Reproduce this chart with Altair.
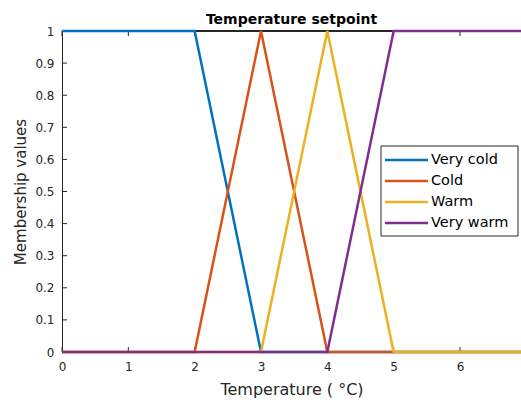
import altair as alt
import pandas as pd

series = ["Very cold", "Cold", "Warm", "Very warm"]
colors = ["#0072BD", "#D95319", "#EDB120", "#7E2F8E"]
xs = {
    "Very cold": [0, 2, 3, 7],
    "Cold": [0, 2, 3, 4, 7],
    "Warm": [0, 3, 4, 5, 7],
    "Very warm": [0, 4, 5, 7],
}
ys = {
    "Very cold": [1, 1, 0, 0],
    "Cold": [0, 0, 1, 0, 0],
    "Warm": [0, 0, 1, 0, 0],
    "Very warm": [0, 0, 1, 1],
}
x_ticks = [0, 1, 2, 3, 4, 5, 6]
y_ticks = [0, 0.1, 0.2, 0.3, 0.4, 0.5, 0.6, 0.7, 0.8, 0.9, 1]

W, H = 459, 321
FONT = "DejaVu Sans"

xscale = alt.Scale(domain=[0, 6.92], nice=False, zero=False)
yscale = alt.Scale(domain=[0, 1], nice=False)

xaxis = alt.Axis(values=x_ticks, ticks=False, grid=False, labelFontSize=12,
                 labelColor="#262626", labelPadding=9, domainColor="#262626",
                 labelFlush=False, labelOverlap=False,
                 title="Temperature ( °C)", titleFontSize=16, titleFontWeight="normal",
                 titleColor="#262626", titlePadding=9, labelFont=FONT, titleFont=FONT)
yaxis = alt.Axis(values=y_ticks, ticks=False, grid=False, labelFontSize=12,
                 labelColor="#262626", labelPadding=8, domainColor="#262626",
                 labelFlush=False, labelOverlap=False,
                 title="Membership values", titleFontSize=15, titleFontWeight="normal",
                 titleColor="#262626", titlePadding=6, labelFont=FONT, titleFont=FONT,
                 format="~g")

X = lambda f: alt.X(f, scale=xscale, axis=xaxis)
Y = lambda f: alt.Y(f, scale=yscale, axis=yaxis)

xt = pd.DataFrame({"x": x_ticks, "y": [0] * len(x_ticks)})
yt = pd.DataFrame({"y": y_ticks, "x": [0] * len(y_ticks)})
base_axes = alt.Chart(xt).mark_point(opacity=0).encode(x=X("x:Q"), y=Y("y:Q"))
tick_bottom = alt.Chart(xt).mark_rule(color="#262626", strokeWidth=1).encode(
    x=X("x:Q"), y=alt.value(H), y2=alt.value(H - 5))
tick_top = alt.Chart(xt).mark_rule(color="#262626", strokeWidth=1).encode(
    x=X("x:Q"), y=alt.value(0), y2=alt.value(5))
tick_left = alt.Chart(yt).mark_rule(color="#262626", strokeWidth=1).encode(
    y=Y("y:Q"), x=alt.value(0), x2=alt.value(5))
top_line = alt.Chart(xt).mark_rule(color="#262626", strokeWidth=1).encode(
    x=alt.value(0), x2=alt.value(W), y=alt.value(0))

layers = []
for i, s in enumerate(series):
    df = pd.DataFrame({"x": xs[s], "y": ys[s], "order": list(range(len(xs[s])))})
    layers.append(
        alt.Chart(df).mark_line(strokeWidth=2.5, color=colors[i]).encode(
            x=X("x:Q"), y=Y("y:Q"), order="order:Q")
    )

# legend (drawn manually, MATLAB style)
LX, LY, LW, LH = 319, 115, 137, 90
ROW0, ROWH = 14, 21
one = pd.DataFrame({"a": [0]})
legend = [alt.Chart(one).mark_rect(fill="white", stroke="#262626", strokeWidth=1).encode(
    x=alt.value(LX), x2=alt.value(LX + LW), y=alt.value(LY), y2=alt.value(LY + LH))]
for i, s in enumerate(series):
    yy = LY + ROW0 + i * ROWH
    legend.append(alt.Chart(one).mark_rule(color=colors[i], strokeWidth=2.5).encode(
        x=alt.value(LX + 4), x2=alt.value(LX + 47), y=alt.value(yy)))
    legend.append(alt.Chart(one).mark_text(text=s, align="left", baseline="middle",
                                           fontSize=14.5, font=FONT, color="black").encode(
        x=alt.value(LX + 50), y=alt.value(yy)))

chart = alt.layer(base_axes, tick_bottom, tick_top, tick_left, top_line, *layers, *legend).properties(
    width=W, height=H,
    title=alt.Title("Temperature setpoint", fontSize=14, fontWeight="bold", font=FONT,
                    color="black", offset=-2),
    autosize=alt.AutoSizeParams(type="none"),
    padding={"left": 62, "top": 31, "right": 0, "bottom": 48},
).configure_view(stroke=None).configure(background="white")

chart.save("out.html", embed_options={"renderer": "svg", "actions": False})
